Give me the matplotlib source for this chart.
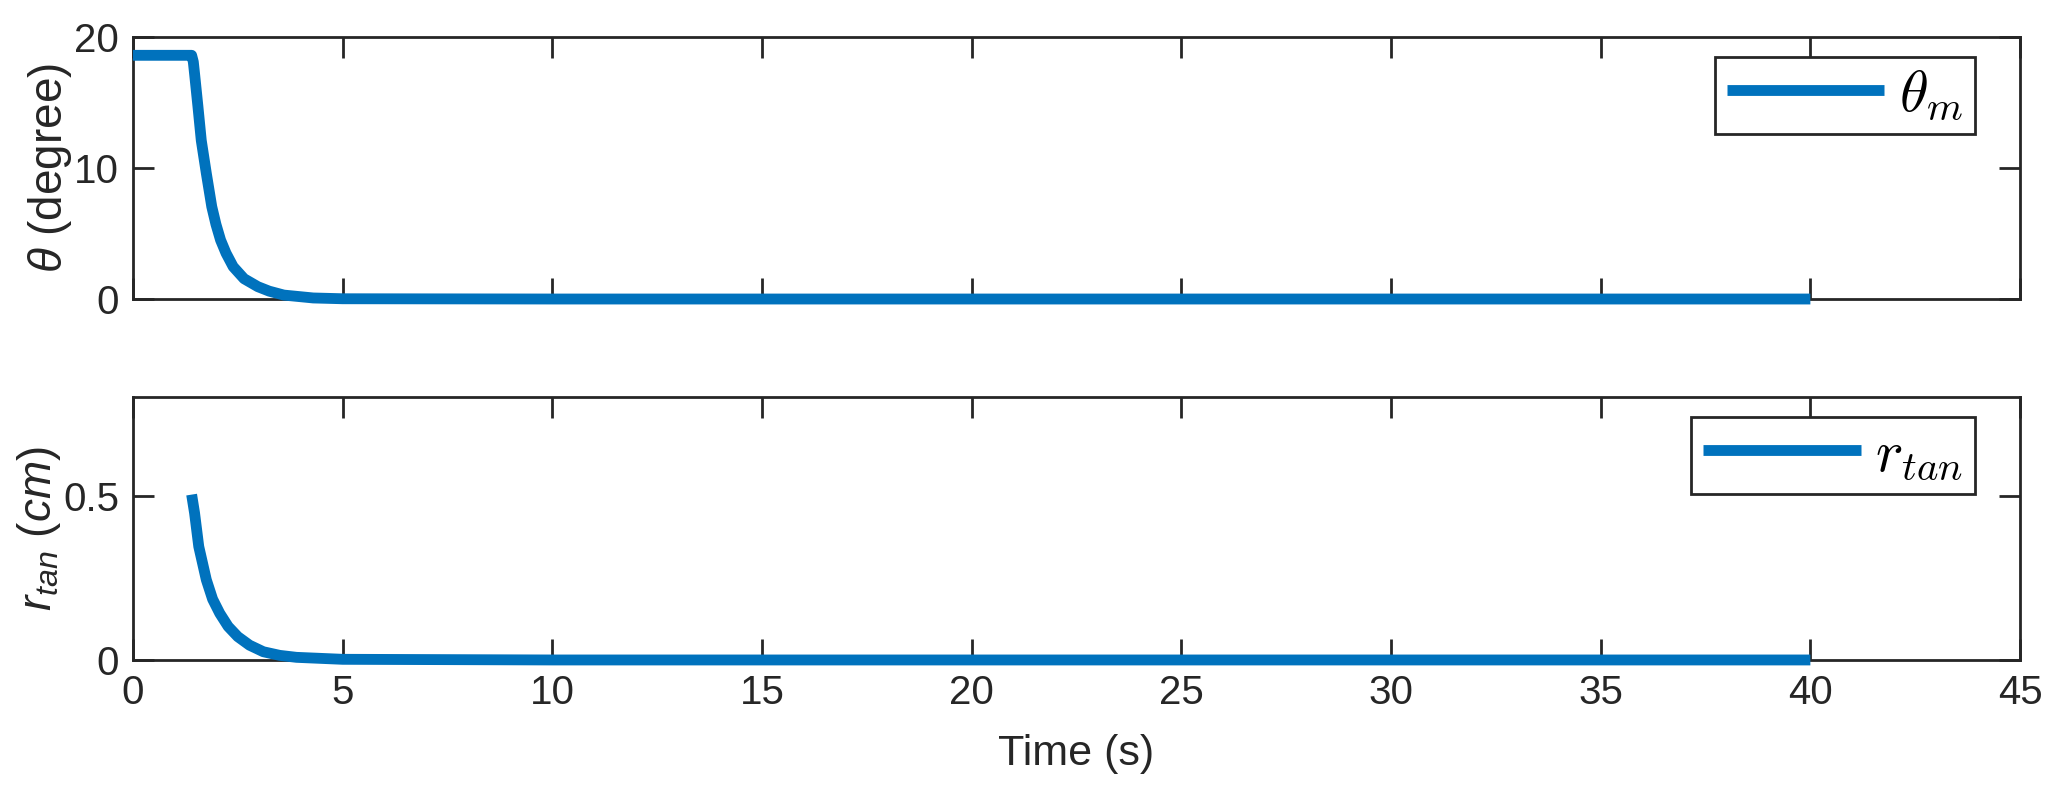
import matplotlib
matplotlib.use("Agg")
import matplotlib.pyplot as plt

plt.rcParams['font.family'] = ['Liberation Sans', 'DejaVu Sans']
plt.rcParams['mathtext.fontset'] = 'custom'
plt.rcParams['mathtext.rm'] = 'Liberation Sans'
plt.rcParams['mathtext.it'] = 'Liberation Sans:italic'

# valores
time_theta = [0, 1.40, 1.44, 1.47, 1.55, 1.63, 1.75, 1.88, 1.98, 2.09, 2.22, 2.39, 2.65, 2.98, 3.25,
              3.6, 4.3, 5.0, 10, 20, 30, 40]
theta_m = [18.6, 18.6, 18.1, 17.2, 14.7, 12.1, 9.6, 7.05, 5.7, 4.5, 3.5, 2.47, 1.55, 0.94, 0.6,
           0.3, 0.08, 0.02, 0, 0, 0, 0]

time_r = [1.40, 1.47, 1.57, 1.75, 1.90, 2.07, 2.27, 2.50, 2.78, 3.11, 3.50, 3.90, 5.0, 10, 20, 30, 40]
r_tan = [0.503, 0.447, 0.345, 0.244, 0.185, 0.142, 0.102, 0.071, 0.045, 0.025, 0.014, 0.008, 0.002,
         0, 0, 0, 0]

xticks = [0, 5, 10, 15, 20, 25, 30, 35, 40, 45]
blue = '#0072BD'
dark = '#262626'

fig = plt.figure(figsize=(20.64, 7.9), dpi=100)
ax1 = fig.add_axes([0.0644, 0.6215, 0.9143, 0.3317])
ax2 = fig.add_axes([0.0644, 0.1646, 0.9143, 0.3329])


def style(ax):
    ax.set_xlim(0, 45)
    ax.set_xticks(xticks)
    ax.tick_params(direction='in', length=15, width=2, colors=dark,
                   labelsize=29, top=True, right=True, pad=10)
    for s in ax.spines.values():
        s.set_linewidth(2)
        s.set_color(dark)


ax1.plot(time_theta, theta_m, color=blue, lw=7.8, label=r'$\theta_m$',
         solid_capstyle='butt', solid_joinstyle='round', clip_on=False, zorder=3)
style(ax1)
ax1.set_ylim(0, 20)
ax1.set_yticks([0, 10, 20])
ax1.tick_params(labelbottom=False)
ax1.set_ylabel(r'$\theta$ (degree)', fontsize=33, color=dark, labelpad=0)

ax2.plot(time_r, r_tan, color=blue, lw=7.8, label=r'$r_{tan}$',
         solid_capstyle='butt', solid_joinstyle='round', clip_on=False, zorder=3)
style(ax2)
ax2.set_ylim(0, 0.8)
ax2.set_yticks([0, 0.5])
ax2.set_yticklabels(['0', '0.5'])
ax2.set_ylabel(r'$r_{tan}\ (cm)$', fontsize=33, color=dark, labelpad=0)
ax2.set_xlabel('Time (s)', fontsize=31, color=dark, labelpad=16)

for ax in (ax1, ax2):
    leg = ax.legend(loc='upper right', bbox_to_anchor=(0.976, 0.924),
                    fontsize=42, handlelength=2.7, fancybox=False,
                    framealpha=1, edgecolor=dark, borderpad=0.2,
                    handletextpad=0.25, borderaxespad=0)
    leg.get_frame().set_linewidth(2)
    leg.set_zorder(5)
    for t in leg.get_texts():
        t.set_math_fontfamily('cm')

fig.savefig('out.png', dpi=100)
